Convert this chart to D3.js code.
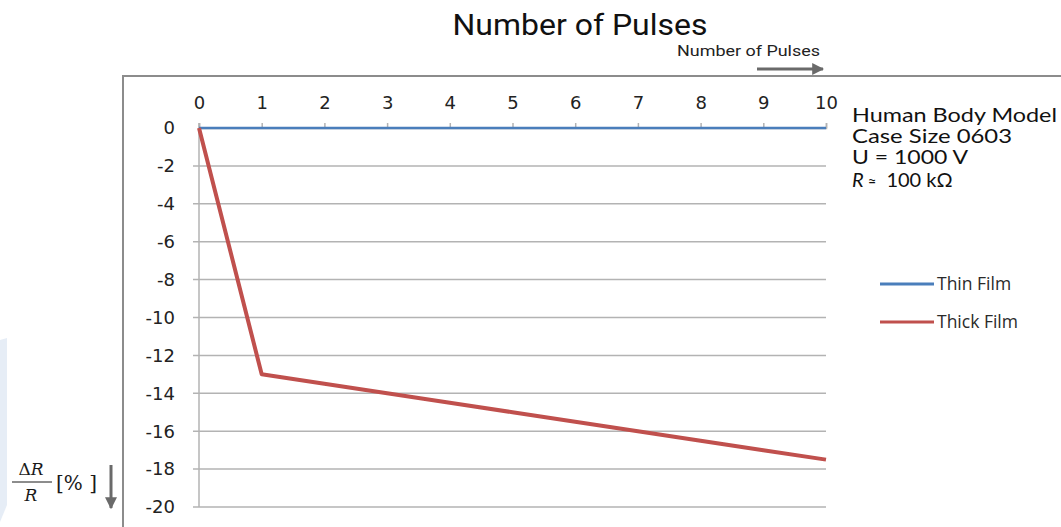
<!DOCTYPE html>
<html>
<head>
<meta charset="utf-8">
<script src="https://cdn.jsdelivr.net/npm/d3@7"></script>
<style>
  body { margin: 0; background: #fff; }
  svg { display: block; }
</style>
</head>
<body>
<div id="chart"></div>
<script>
// data
const pulses = [0, 1, 2, 3, 4, 5, 6, 7, 8, 9, 10];
const thinFilm = [0, 0, 0, 0, 0, 0, 0, 0, 0, 0, 0];
const thickFilm = [0, -13, -13.5, -14, -14.5, -15, -15.5, -16, -16.5, -17, -17.5];
const yTicks = [0, -2, -4, -6, -8, -10, -12, -14, -16, -18, -20];
const seriesNames = ['Thin Film', 'Thick Film'];
const seriesColors = ['#4a7ebb', '#c0504d'];
const noteLines = ['Human Body Model', 'Case Size 0603', 'U = 1000 V'];
const noteWidths = [205, 160, 116];

const width = 1061, height = 527;
const svg = d3.select('#chart').append('svg')
    .attr('width', width)
    .attr('height', height);

// faint decorative shape at the left edge
svg.append('path')
    .attr('d', 'M0,340 L7,338 L7,505 L0,522 Z')
    .attr('fill', '#e6edf6');

const x = d3.scaleLinear().domain([0, 10]).range([199, 826]);
const y = d3.scaleLinear().domain([0, -20]).range([128, 507]);

// frame
svg.append('path')
    .attr('d', `M123,${height} L123,76 L${width},76`)
    .attr('fill', 'none')
    .attr('stroke', '#8c8c8c')
    .attr('stroke-width', 2);

// title
svg.append('text')
    .attr('x', 580).attr('y', 35)
    .attr('text-anchor', 'middle')
    .attr('font-family', 'Roboto, sans-serif')
    .attr('font-size', 30)
    .attr('textLength', 255)
    .attr('lengthAdjust', 'spacingAndGlyphs')
    .attr('fill', '#111')
    .text('Number of Pulses');

svg.append('text')
    .attr('x', 677).attr('y', 56)
    .attr('font-family', 'Roboto, sans-serif')
    .attr('font-size', 14)
    .attr('textLength', 143)
    .attr('lengthAdjust', 'spacingAndGlyphs')
    .attr('fill', '#222')
    .text('Number of Pulses');

const defs = svg.append('defs');
defs.append('marker')
    .attr('id', 'arrow')
    .attr('viewBox', '0 0 10 10')
    .attr('refX', 9).attr('refY', 5)
    .attr('markerWidth', 4).attr('markerHeight', 4)
    .attr('orient', 'auto')
    .append('path')
    .attr('d', 'M0,0 L10,5 L0,10 Z')
    .attr('fill', '#6a6a6a');

svg.append('line')
    .attr('x1', 757).attr('y1', 69).attr('x2', 823).attr('y2', 69)
    .attr('stroke', '#6a6a6a').attr('stroke-width', 3)
    .attr('marker-end', 'url(#arrow)');

// gridlines
svg.append('g')
    .selectAll('line')
    .data(yTicks.filter(d => d !== 0))
    .join('line')
    .attr('x1', 193).attr('x2', x(10))
    .attr('y1', d => y(d)).attr('y2', d => y(d))
    .attr('stroke', '#b3b3b3')
    .attr('stroke-width', 1.5);

// vertical axis line
svg.append('line')
    .attr('x1', x(0)).attr('x2', x(0))
    .attr('y1', y(0) - 5).attr('y2', y(-20))
    .attr('stroke', '#b3b3b3').attr('stroke-width', 1.5);

// top axis
const xAxis = svg.append('g')
    .attr('transform', `translate(0,${y(0)})`)
    .call(d3.axisTop(x).tickValues(pulses).tickSize(5).tickPadding(14).tickFormat(d3.format('d')));
xAxis.select('.domain').attr('stroke', '#b3b3b3').attr('stroke-width', 1.5);
xAxis.selectAll('.tick line').attr('stroke', '#b3b3b3').attr('stroke-width', 1.5);
xAxis.selectAll('text')
    .attr('font-family', '"DejaVu Sans", sans-serif')
    .attr('font-size', 18)
    .attr('fill', '#222');

// left tick labels
svg.append('g')
    .selectAll('text')
    .data(yTicks)
    .join('text')
    .attr('x', 175)
    .attr('y', d => y(d))
    .attr('dy', '0.35em')
    .attr('text-anchor', 'end')
    .attr('font-family', '"DejaVu Sans", sans-serif')
    .attr('font-size', 18)
    .attr('fill', '#222')
    .text(d => d);

// series
const line = d3.line().x((d, i) => x(pulses[i])).y(d => y(d));
svg.append('path')
    .datum(thinFilm)
    .attr('d', line)
    .attr('fill', 'none')
    .attr('stroke', seriesColors[0])
    .attr('stroke-width', 2.5);
svg.append('path')
    .datum(thickFilm)
    .attr('d', line)
    .attr('fill', 'none')
    .attr('stroke', seriesColors[1])
    .attr('stroke-width', 4)
    .attr('stroke-linejoin', 'round');

// note text
const note = svg.append('g')
    .attr('font-family', 'Lato, sans-serif')
    .attr('font-size', 19)
    .attr('fill', '#111');
noteLines.forEach((t, i) => {
    note.append('text')
        .attr('x', 852).attr('y', 122 + i * 21)
        .attr('textLength', noteWidths[i])
        .attr('lengthAdjust', 'spacingAndGlyphs')
        .text(t);
});
const rLine = note.append('text').attr('x', 852).attr('y', 187).attr('font-size', 20);
rLine.append('tspan').attr('font-style', 'italic').text('R');
rLine.append('tspan').attr('font-size', 15).attr('dx', 4).text('\u2248');
rLine.append('tspan').attr('dx', 10).text('100 k\u03A9');

// legend
const legend = svg.append('g');
seriesNames.forEach((name, i) => {
    const ly = 284 + i * 38;
    legend.append('line')
        .attr('x1', 880).attr('x2', 934)
        .attr('y1', ly).attr('y2', ly)
        .attr('stroke', seriesColors[i])
        .attr('stroke-width', 3);
    legend.append('text')
        .attr('x', 937).attr('y', ly)
        .attr('dy', '0.35em')
        .attr('font-family', '"Open Sans", sans-serif')
        .attr('font-size', 17.5)
        .attr('fill', '#2a2a2a')
        .text(name);
});

// y axis label: dR/R [%] with arrow
const yl = svg.append('g')
    .attr('font-family', '"DejaVu Serif", "Liberation Serif", serif')
    .attr('fill', '#1a1a1a');
const frac = yl.append('text').attr('x', 31).attr('y', 475).attr('text-anchor', 'middle').attr('font-size', 17);
frac.append('tspan').text('\u0394');
frac.append('tspan').attr('font-style', 'italic').text('R');
yl.append('line')
    .attr('x1', 12).attr('x2', 52).attr('y1', 482).attr('y2', 482)
    .attr('stroke', '#1a1a1a').attr('stroke-width', 1);
yl.append('text').attr('x', 31).attr('y', 501).attr('text-anchor', 'middle')
    .attr('font-size', 17).attr('font-style', 'italic').text('R');
yl.append('text').attr('x', 56).attr('y', 490).attr('font-size', 20).text('[% ]');

svg.append('line')
    .attr('x1', 111).attr('x2', 111).attr('y1', 465).attr('y2', 508)
    .attr('stroke', '#6a6a6a').attr('stroke-width', 3)
    .attr('marker-end', 'url(#arrow)');
</script>
</body>
</html>
